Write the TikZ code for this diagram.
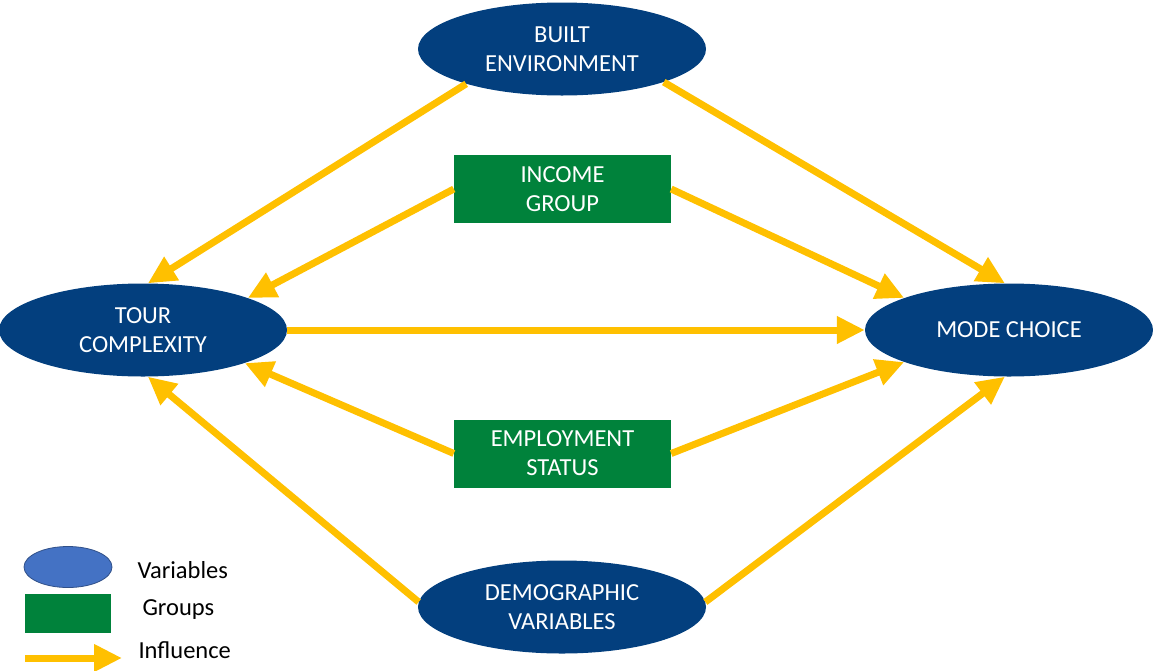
\documentclass[tikz,border=0pt]{standalone}
\usepackage{fontspec}
\setmainfont{Carlito}
\usetikzlibrary{shapes.geometric,arrows.meta}
\definecolor{varblue}{HTML}{033F7E}
\definecolor{grpgreen}{HTML}{00823B}
\definecolor{infyellow}{HTML}{FFC000}
\definecolor{legblue}{HTML}{4472C4}
\begin{document}
\begin{tikzpicture}[x=1pt,y=-1pt,
  varnode/.style={ellipse,fill=varblue,text=white,minimum width=288pt,minimum height=93pt,
    inner sep=0pt,align=center,font=\fontsize{24.5}{29}\selectfont},
  grpnode/.style={rectangle,fill=grpgreen,text=white,minimum width=217pt,minimum height=68pt,
    inner sep=0pt,align=center,font=\fontsize{24.5}{29}\selectfont},
  influence/.style={draw=infyellow,line width=7pt,-{Triangle[length=28pt,width=26pt]}},
  legtext/.style={anchor=west,font=\fontsize{24.5}{29}\selectfont,text=black}]
\useasboundingbox (0,0) rectangle (1153,670);

% variables
\node[varnode] (built) at (562,49) {BUILT\\ENVIRONMENT};
\node[varnode] (tour) at (143,330) {TOUR\\COMPLEXITY};
\node[varnode] (mode) at (1009,330) {MODE CHOICE};
\node[varnode] (demo) at (562,607) {DEMOGRAPHIC\\VARIABLES};

% groups
\node[grpnode] (income) at (562.5,189) {INCOME\\GROUP};
\node[grpnode] (employ) at (562.5,453.5) {EMPLOYMENT\\STATUS};

% influences
\draw[influence] (built.200) -- (tour.84);
\draw[influence] (built.342) -- (mode.95);
\draw[influence] (income.west) -- (tour.17);
\draw[influence] (income.east) -- (mode.163);
\draw[influence] (tour.east) -- (mode.west);
\draw[influence] (employ.west) -- (tour.-18);
\draw[influence] (employ.east) -- (mode.197);
\draw[influence] (demo.178) -- (tour.-84);
\draw[influence] (demo.2) -- (mode.265);

% legend
\node[ellipse,fill=legblue,draw=legblue!70!black,line width=0.8pt,minimum width=88pt,minimum height=41pt,inner sep=0pt] (legvar) at (68,567) {};
\node[rectangle,fill=grpgreen,minimum width=86pt,minimum height=39pt,inner sep=0pt] (leggrp) at (68,613.5) {};
\coordinate (legarrA) at (25,658);
\coordinate (legarrB) at (122,658);
\draw[influence] (legarrA) -- (legarrB);
\node[legtext] (legvartxt) at (134,570) {Variables};
\node[legtext] (leggrptxt) at (139,610) {Groups};
\node[legtext] (leginftxt) at (135,650) {Influence};
\end{tikzpicture}
\end{document}
